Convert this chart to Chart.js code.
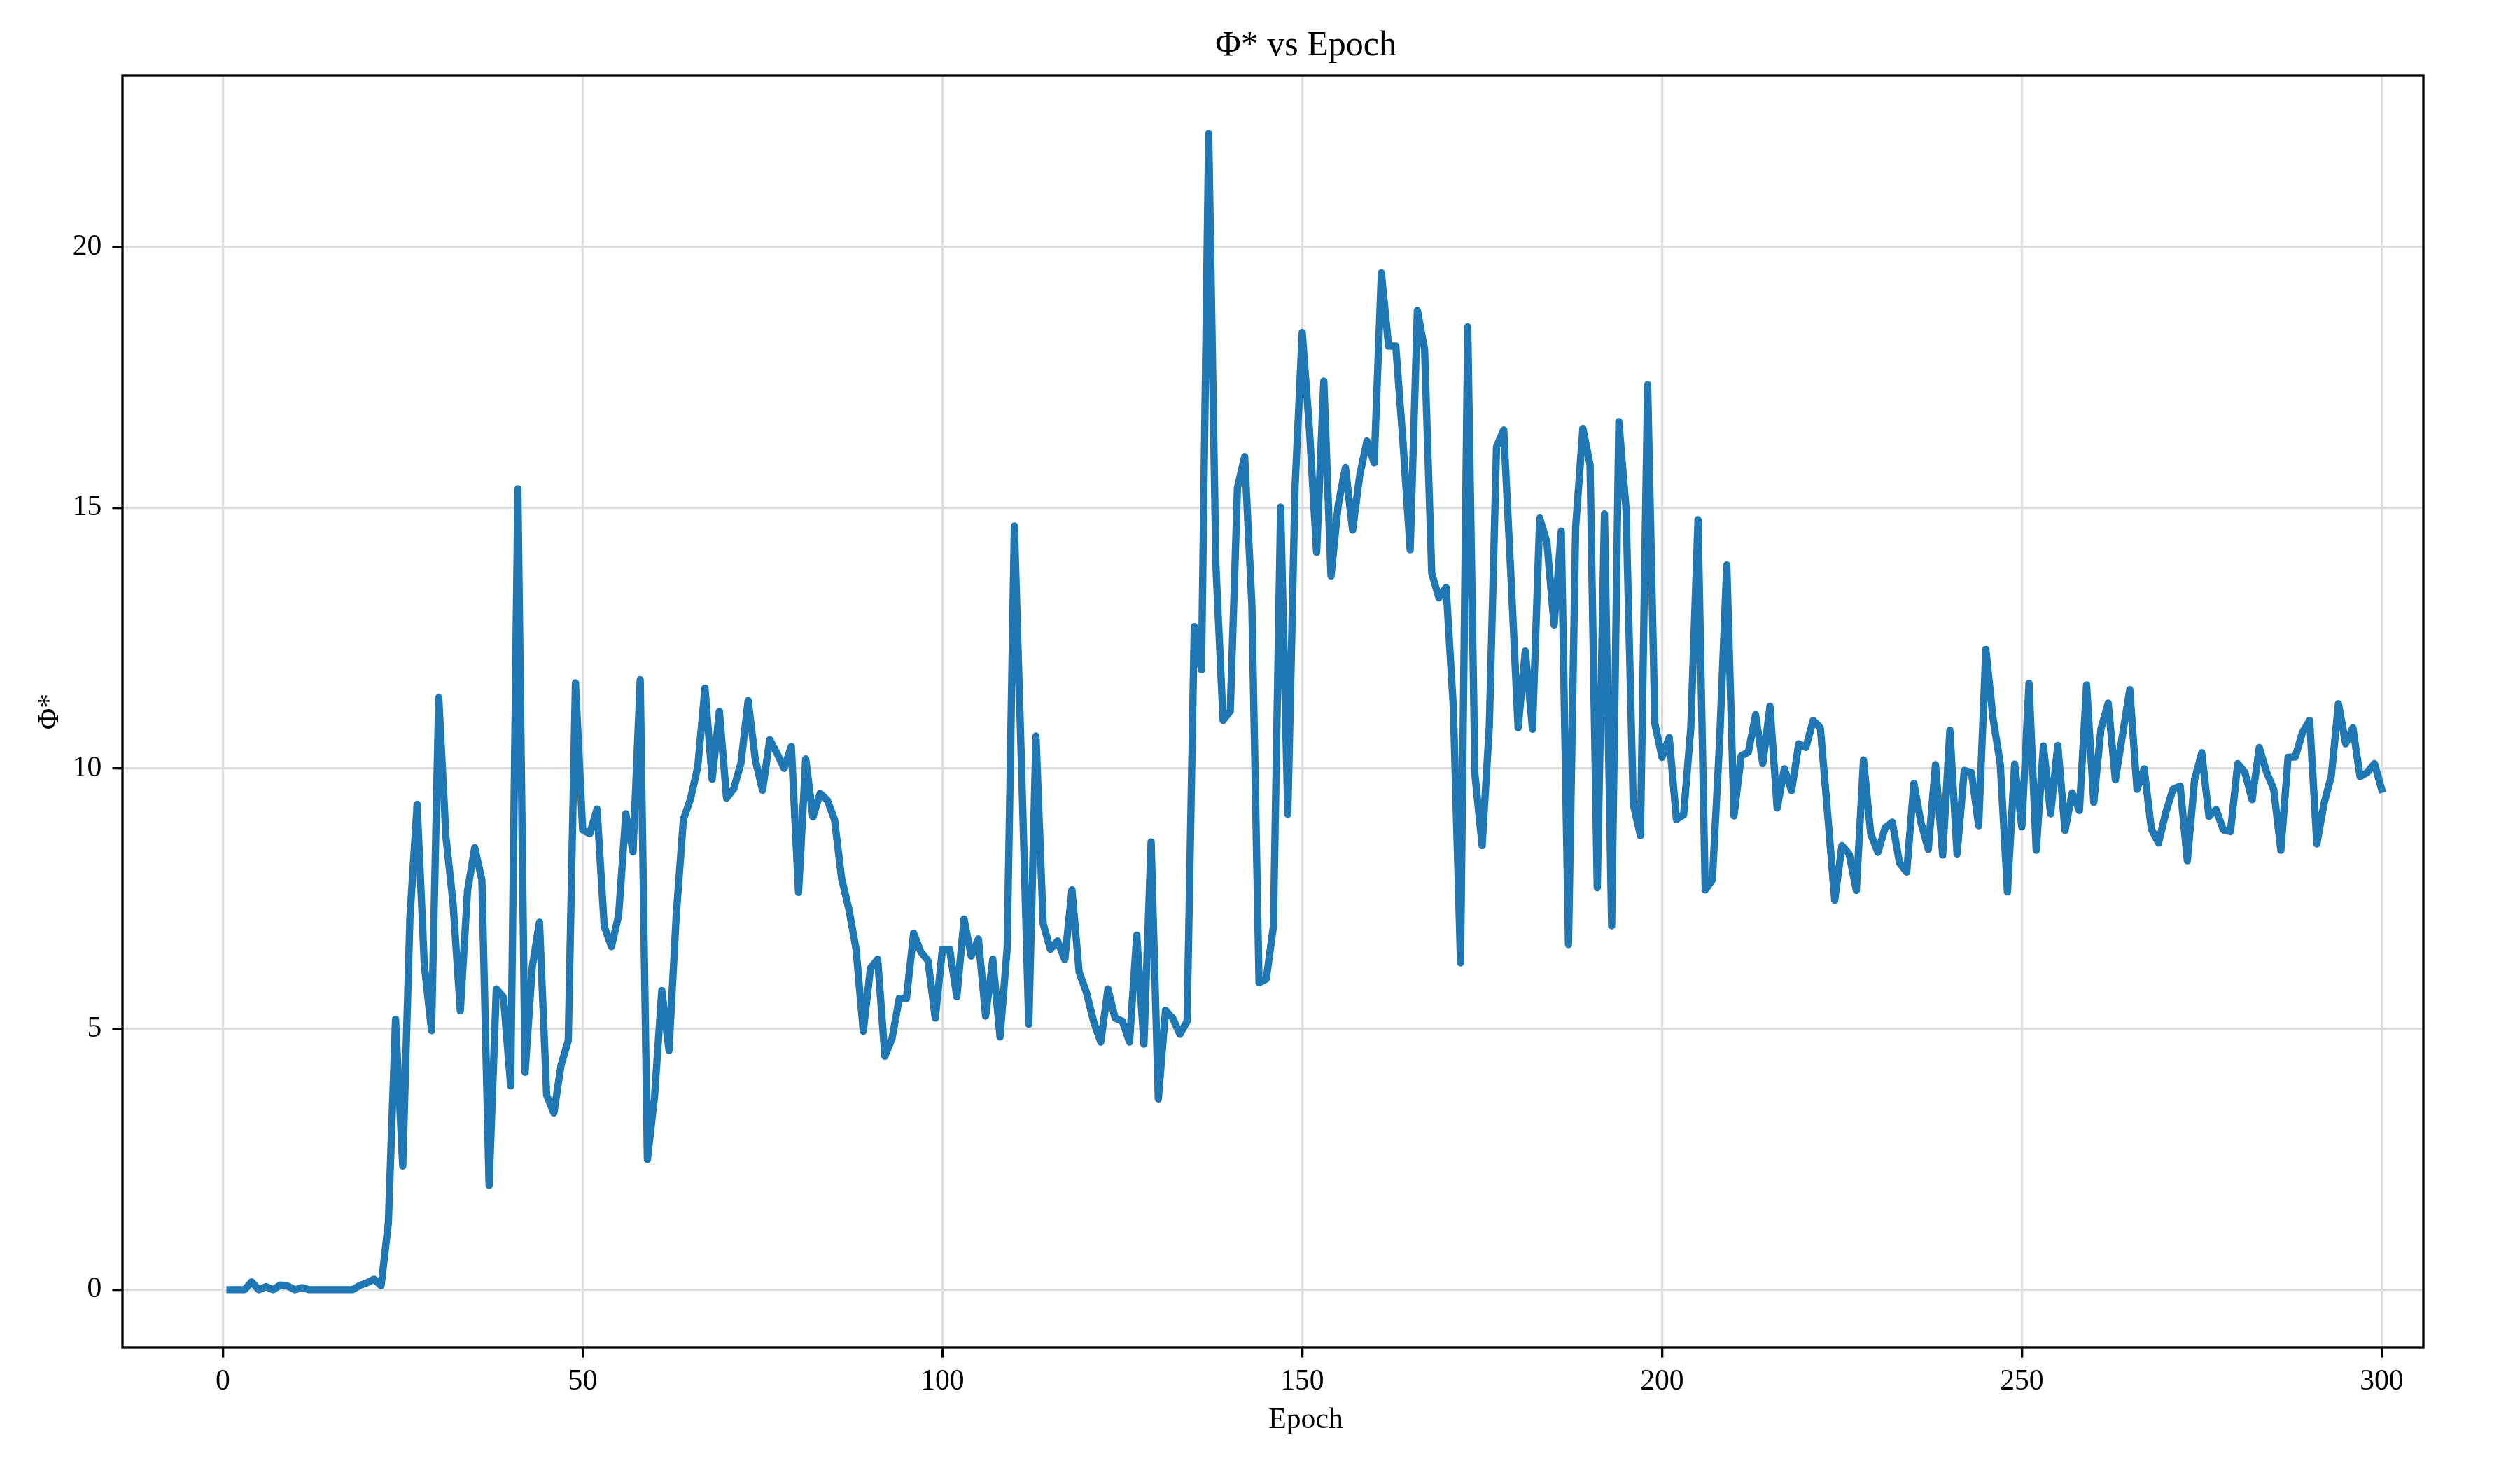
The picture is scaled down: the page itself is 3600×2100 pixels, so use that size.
<!DOCTYPE html>
<html>
<head>
<meta charset="utf-8">
<title>Φ* vs Epoch</title>
<script src="https://cdn.jsdelivr.net/npm/chart.js@4.4.0/dist/chart.umd.min.js"></script>
<style>
    html, body { margin: 0; padding: 0; background: #ffffff; }
    #chart { display: block; }
</style>
</head>
<body>
<canvas id="chart" width="3600" height="2100"></canvas>
<script>
// Phi* value per epoch (epochs 1..300)
const phiStar = [
    0.00, 0.00, 0.00, 0.15, 0.00, 0.06, 0.00, 0.09, 0.07, 0.00,
    0.04, 0.00, 0.00, 0.00, 0.00, 0.00, 0.00, 0.00, 0.08, 0.13,
    0.20, 0.08, 1.28, 5.19, 2.37, 7.14, 9.31, 6.23, 4.97, 11.36,
    8.69, 7.40, 5.35, 7.65, 8.48, 7.86, 2.00, 5.77, 5.61, 3.91,
    15.36, 4.17, 6.19, 7.05, 3.73, 3.39, 4.31, 4.78, 11.64, 8.82,
    8.75, 9.22, 6.97, 6.58, 7.18, 9.13, 8.40, 11.70, 2.50, 3.72,
    5.74, 4.59, 7.17, 9.02, 9.42, 10.03, 11.54, 9.79, 11.09, 9.43,
    9.61, 10.10, 11.30, 10.16, 9.58, 10.55, 10.29, 10.00, 10.42, 7.62,
    10.18, 9.07, 9.52, 9.39, 9.02, 7.88, 7.30, 6.53, 4.96, 6.17,
    6.34, 4.48, 4.82, 5.59, 5.59, 6.84, 6.48, 6.31, 5.21, 6.53,
    6.53, 5.62, 7.11, 6.40, 6.73, 5.25, 6.34, 4.85, 6.56, 14.65,
    10.00, 5.09, 10.62, 7.02, 6.53, 6.69, 6.33, 7.67, 6.09, 5.71,
    5.15, 4.75, 5.77, 5.21, 5.15, 4.75, 6.80, 4.71, 8.59, 3.66,
    5.36, 5.21, 4.90, 5.15, 12.72, 11.89, 22.18, 13.90, 10.92, 11.10,
    15.38, 15.98, 13.15, 5.89, 5.96, 6.97, 15.01, 9.12, 15.38, 18.36,
    16.50, 14.14, 17.43, 13.69, 15.05, 15.77, 14.57, 15.63, 16.28, 15.86,
    19.50, 18.10, 18.10, 16.26, 14.19, 18.78, 18.04, 13.74, 13.27, 13.47,
    11.17, 6.27, 18.47, 9.88, 8.52, 10.81, 16.17, 16.49, 13.70, 10.78,
    12.25, 10.75, 14.80, 14.34, 12.75, 14.55, 6.62, 14.63, 16.52, 15.82,
    7.71, 14.88, 6.98, 16.65, 14.98, 9.32, 8.71, 17.36, 10.86, 10.21,
    10.59, 9.02, 9.11, 10.78, 14.77, 7.67, 7.86, 10.52, 13.90, 9.09,
    10.24, 10.31, 11.03, 10.09, 11.19, 9.24, 9.99, 9.57, 10.47, 10.40,
    10.92, 10.78, 9.15, 7.47, 8.52, 8.36, 7.66, 10.16, 8.75, 8.39,
    8.86, 8.97, 8.19, 8.01, 9.71, 8.95, 8.45, 10.07, 8.34, 10.73,
    8.36, 9.96, 9.92, 8.90, 12.28, 10.96, 10.09, 7.63, 10.08, 8.88,
    11.63, 8.43, 10.43, 9.13, 10.44, 8.81, 9.53, 9.19, 11.60, 9.35,
    10.76, 11.25, 9.78, 10.65, 11.51, 9.60, 9.99, 8.84, 8.57, 9.15,
    9.60, 9.66, 8.23, 9.78, 10.30, 9.08, 9.21, 8.82, 8.79, 10.09,
    9.92, 9.40, 10.40, 9.93, 9.60, 8.43, 10.21, 10.22, 10.69, 10.92,
    8.55, 9.33, 9.85, 11.24, 10.47, 10.78, 9.84, 9.92, 10.09, 9.60
];

// epochs start at 1
const epochs = phiStar.map((_, i) => i + 1);

const xTicks = [0, 50, 100, 150, 200, 250, 300];
const yTicks = [0, 5, 10, 15, 20];

const chartTitle = 'Φ* vs Epoch';
const xLabel = 'Epoch';
const yLabel = 'Φ*';

// matplotlib-ish look at 300 dpi
const PT = 300 / 72;
const FONT = "'Liberation Serif', 'Times New Roman', 'DejaVu Serif', serif";
const LINE_COLOR = '#1f77b4';
const GRID_COLOR = '#dedede';

// y limits with 5% margins like matplotlib autoscale
const yMinData = Math.min(...phiStar);
const yMaxData = Math.max(...phiStar);
const yPad = (yMaxData - yMinData) * 0.05;

// x: visible frame ends early on the right, but titles centre on the full 5% margin span
const xFirst = epochs[0];
const xLast = epochs[epochs.length - 1];
const xPad = (xLast - xFirst) * 0.05;

// frame on all four sides + title and x label centred like matplotlib
const frameAndTitles = {
    id: 'frameAndTitles',
    afterDraw(chart) {
        const a = chart.chartArea;
        const c = chart.ctx;
        const xs = chart.scales.x;
        const mid = (xs.getPixelForValue(xFirst - xPad) + xs.getPixelForValue(xLast + xPad)) / 2;

        c.save();
        c.strokeStyle = '#000000';
        c.lineWidth = 0.8 * PT;
        c.strokeRect(a.left, a.top, a.right - a.left, a.bottom - a.top);

        c.fillStyle = '#000000';
        c.textAlign = 'center';
        c.textBaseline = 'middle';
        c.font = (12 * PT) + 'px ' + FONT;
        c.fillText(chartTitle, mid, 66);
        c.font = (10 * PT) + 'px ' + FONT;
        c.fillText(xLabel, mid, 2029);
        c.restore();
    }
};

const tickFont = { family: FONT, size: 10 * PT, lineHeight: 1.2 };

const ctx = document.getElementById('chart').getContext('2d');
new Chart(ctx, {
    type: 'line',
    data: {
        datasets: [{
            label: yLabel,
            data: epochs.map((e, i) => ({ x: e, y: phiStar[i] })),
            borderColor: LINE_COLOR,
            borderWidth: 2.5 * PT,
            borderJoinStyle: 'round',
            borderCapStyle: 'square',
            pointRadius: 0,
            tension: 0,
            fill: false
        }]
    },
    options: {
        responsive: false,
        devicePixelRatio: 1,
        animation: false,
        layout: {
            padding: { left: 0, right: 138, top: 108, bottom: 0 }
        },
        scales: {
            x: {
                type: 'linear',
                min: xFirst - xPad,
                max: 305.8,
                afterBuildTicks: (scale) => {
                    scale.ticks = xTicks.map(v => ({ value: v }));
                },
                afterFit: (scale) => { scale.height = 175; },
                ticks: {
                    font: tickFont,
                    color: '#000000',
                    padding: 9,
                    maxRotation: 0,
                    autoSkip: false
                },
                grid: {
                    color: GRID_COLOR,
                    lineWidth: 0.8 * PT,
                    tickColor: '#000000',
                    tickLength: 3.5 * PT,
                    tickWidth: 0.8 * PT
                },
                border: { display: false }
            },
            y: {
                type: 'linear',
                min: yMinData - yPad,
                max: yMaxData + yPad,
                afterBuildTicks: (scale) => {
                    scale.ticks = yTicks.map(v => ({ value: v }));
                },
                afterFit: (scale) => { scale.width = 175; },
                ticks: {
                    font: tickFont,
                    color: '#000000',
                    padding: 15
                },
                grid: {
                    color: GRID_COLOR,
                    lineWidth: 0.8 * PT,
                    tickColor: '#000000',
                    tickLength: 3.5 * PT,
                    tickWidth: 0.8 * PT
                },
                border: { display: false },
                title: {
                    display: true,
                    text: yLabel,
                    color: '#000000',
                    font: tickFont,
                    padding: { top: 47, bottom: 0 }
                }
            }
        },
        plugins: {
            legend: { display: false },
            tooltip: { enabled: false },
            title: { display: false }
        }
    },
    plugins: [frameAndTitles]
});
</script>
</body>
</html>
